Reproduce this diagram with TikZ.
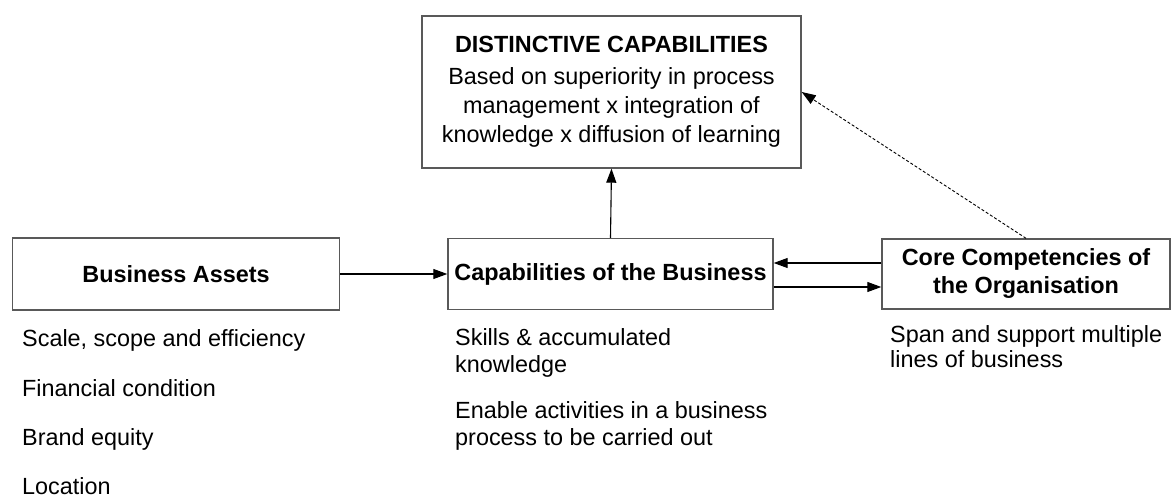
\documentclass[tikz,border=0pt]{standalone}
\usepackage{fontspec}
\setmainfont{Liberation Sans}
\usetikzlibrary{arrows.meta}
\begin{document}
\begin{tikzpicture}[x=1pt,y=-1pt,
  every node/.style={font=\fontsize{23.4}{29}\selectfont, inner sep=0pt},
  box/.style={draw=black!65, line width=1.4pt, fill=white, align=center},
  txt/.style={anchor=base west, text=black},
  conn/.style={draw=black, line width=1.1pt, -{Triangle[length=14pt,width=10pt]}},
  dconn/.style={draw=black, line width=0.9pt, dash pattern=on 3pt off 2pt, -{Triangle[length=14pt,width=10pt]}}]
\useasboundingbox (0,0) rectangle (1171,497);
\fill[white] (0,0) rectangle (1171,497);

\node[box, minimum width=379pt, minimum height=152pt] (top) at (611.5,92)
  {\textbf{DISTINCTIVE CAPABILITIES}\\[3pt]Based on superiority in process\\management x integration of\\knowledge x diffusion of learning};
\node[box, minimum width=327pt, minimum height=72pt] (ba) at (176,274) {\textbf{Business Assets}};
\node[box, minimum width=325pt, minimum height=71pt] (cap) at (610.5,274) {\textbf{Capabilities of the Business}};
\node[box, minimum width=288pt, minimum height=70pt, font=\fontsize{23.4}{28}\selectfont] (core) at (1026,274)
  {\textbf{Core Competencies of}\\\textbf{the Organisation}};

\node[txt] (ba1) at (22,347) {Scale, scope and efficiency};
\node[txt] (ba2) at (22,396) {Financial condition};
\node[txt] (ba3) at (22,445) {Brand equity};
\node[txt] (ba4) at (22,494) {Location};

\node[txt] (cap1) at (455,345) {Skills \& accumulated};
\node[txt] (cap2) at (455,372) {knowledge};
\node[txt] (cap3) at (455,418) {Enable activities in a business};
\node[txt] (cap4) at (455,445) {process to be carried out};

\node[txt] (core1) at (890,342) {Span and support multiple};
\node[txt] (core2) at (890,367) {lines of business};

\draw[conn] (ba.east) -- (cap.west);
\draw[conn] (cap.north) -- (top.south);
\draw[conn] ([yshift=11pt]core.west) -- ([yshift=11pt]cap.east);
\draw[conn] ([yshift=-13pt]cap.east) -- ([yshift=-13pt]core.west);
\draw[dconn] (core.north) -- (top.east);
\end{tikzpicture}
\end{document}
